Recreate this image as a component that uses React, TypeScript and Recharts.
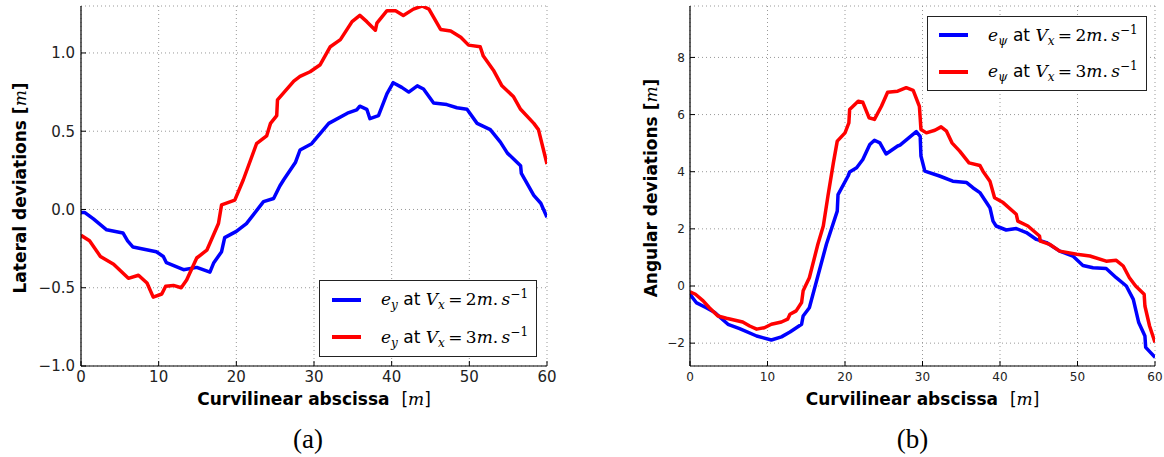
import { LineChart, Line, XAxis, YAxis, CartesianGrid, Legend } from "recharts";

// (a) lateral deviation e_y [m] against curvilinear abscissa s [m]
const latS2 = [0, 0.5, 1.6, 3.3, 5.4, 6.0, 6.7, 9.7, 10.6, 11.0, 13.2, 14.9, 16.6, 17.1, 18.1, 18.5, 20.0, 21.3, 23.5, 24.8, 25.6, 26.1, 27.6, 28.2, 29.7, 31.9, 34.3, 35.5, 35.9, 36.8, 37.2, 38.3, 39.4, 40.2, 41.3, 42.2, 43.3, 44.1, 45.4, 47.1, 48.4, 49.7, 51.0, 52.7, 54.0, 54.9, 56.6, 56.7, 58.3, 59.2, 60];
const latE2 = [-0.02, -0.02, -0.06, -0.13, -0.15, -0.2, -0.24, -0.27, -0.3, -0.34, -0.385, -0.37, -0.4, -0.34, -0.27, -0.18, -0.14, -0.09, 0.05, 0.07, 0.15, 0.19, 0.3, 0.38, 0.42, 0.55, 0.615, 0.636, 0.66, 0.64, 0.58, 0.6, 0.74, 0.81, 0.78, 0.75, 0.79, 0.77, 0.68, 0.67, 0.65, 0.64, 0.55, 0.51, 0.43, 0.36, 0.28, 0.23, 0.09, 0.04, -0.05];
const latS3 = [0, 1.1, 2.5, 4.2, 6.1, 7.4, 8.5, 9.3, 10.4, 10.9, 11.9, 12.9, 13.6, 14.9, 16.2, 17.7, 18.1, 19.8, 20.9, 22.6, 23.9, 24.4, 25.2, 25.3, 27.4, 28.2, 29.5, 30.8, 32.1, 33.4, 34.9, 35.9, 36.8, 37.9, 38.1, 39.4, 40.5, 41.5, 42.8, 43.9, 44.8, 46.3, 47.6, 48.9, 49.9, 51.4, 51.8, 53.1, 54.2, 55.7, 56.6, 58.3, 58.9, 60];
const latE3 = [-0.165, -0.2, -0.3, -0.35, -0.44, -0.42, -0.47, -0.56, -0.54, -0.49, -0.485, -0.5, -0.45, -0.31, -0.26, -0.09, 0.03, 0.06, 0.19, 0.42, 0.47, 0.55, 0.6, 0.7, 0.82, 0.85, 0.88, 0.925, 1.04, 1.085, 1.2, 1.24, 1.2, 1.145, 1.19, 1.27, 1.27, 1.24, 1.28, 1.3, 1.28, 1.15, 1.14, 1.1, 1.05, 1.04, 0.98, 0.89, 0.79, 0.72, 0.64, 0.55, 0.51, 0.29];

// (b) angular deviation e_psi against curvilinear abscissa
const angS2 = [0, 0.8, 2.1, 3.2, 4.9, 6.4, 8.6, 10.5, 11.8, 12.9, 14.4, 14.6, 15.4, 16.5, 17.6, 19.0, 19.1, 20.4, 20.6, 21.5, 22.3, 23.2, 23.8, 24.5, 25.3, 26.8, 27.1, 29.2, 29.7, 29.8, 30.3, 32.2, 33.9, 35.7, 36.5, 37.4, 38.7, 39.1, 39.5, 40.8, 42.1, 43.4, 44.7, 46.0, 47.7, 49.4, 50.7, 52.0, 53.7, 55.0, 56.3, 57.2, 57.9, 58.7, 58.8, 60];
const angE2 = [-0.29, -0.58, -0.76, -0.93, -1.34, -1.49, -1.75, -1.89, -1.78, -1.61, -1.34, -1.05, -0.76, 0.35, 1.46, 2.62, 3.2, 3.85, 3.99, 4.14, 4.43, 4.95, 5.1, 5.01, 4.62, 4.9, 4.93, 5.4, 5.24, 4.55, 4.02, 3.85, 3.67, 3.62, 3.44, 3.27, 2.74, 2.27, 2.1, 1.96, 2.01, 1.87, 1.63, 1.52, 1.22, 1.05, 0.72, 0.64, 0.61, 0.29, 0.0, -0.47, -1.28, -1.75, -2.15, -2.5];
const angS3 = [0, 0.7, 1.7, 2.5, 3.6, 4.7, 6.8, 7.7, 8.6, 9.6, 10.5, 11.8, 12.6, 12.9, 13.7, 14.4, 14.6, 15.4, 16.5, 17.2, 17.8, 18.5, 19.0, 20.0, 20.5, 20.6, 21.7, 22.3, 23.1, 23.8, 24.7, 25.5, 26.8, 27.9, 28.8, 29.6, 29.8, 30.5, 31.6, 32.4, 33.1, 33.8, 34.8, 36.0, 37.4, 37.8, 38.7, 39.3, 40.4, 42.1, 42.3, 43.6, 45.1, 45.2, 46.4, 47.7, 49.9, 51.6, 53.7, 55.0, 55.9, 56.7, 57.5, 58.6, 58.7, 59.3, 60];
const angE3 = [-0.2, -0.29, -0.52, -0.76, -1.05, -1.13, -1.26, -1.4, -1.51, -1.46, -1.34, -1.26, -1.16, -0.99, -0.87, -0.58, -0.17, 0.29, 1.46, 2.1, 3.15, 4.31, 5.07, 5.36, 5.71, 6.18, 6.47, 6.43, 5.89, 5.83, 6.29, 6.78, 6.82, 6.94, 6.85, 6.29, 5.48, 5.36, 5.45, 5.57, 5.42, 5.01, 4.72, 4.31, 4.22, 4.02, 3.67, 3.09, 2.92, 2.51, 2.27, 2.1, 1.75, 1.57, 1.46, 1.22, 1.11, 1.05, 0.87, 0.9, 0.7, 0.29, 0.0, -0.29, -0.7, -1.4, -1.98];

const sTicks = [0, 10, 20, 30, 40, 50, 60];
const latTicks = [-1, -0.5, 0, 0.5, 1];
const angTicks = [-2, 0, 2, 4, 6, 8];

const BLUE = "#0000ff";
const RED = "#ff0000";
const SANS = "'DejaVu Sans', sans-serif";
const SERIF = "'DejaVu Serif', serif";

const toPoints = (s: number[], e: number[]) => s.map((v, i) => ({ s: v, e: e[i] }));
const uminus = (t: string) => t.replace("-", "\u2212");

// matplotlib-classic ticks: short marks pointing into the plot, labels outside
const axisTick =
  (side: "bottom" | "left" | "top" | "right", fontSize: number, offset: number, fmt?: (v: number) => string) =>
  (props: any) => {
    const { x, y, payload } = props;
    const k = 5;
    if (side === "bottom") {
      return (
        <g>
          <line x1={x} y1={y} x2={x} y2={y - k} stroke="#000" />
          {fmt && (
            <text x={x} y={y + offset} textAnchor="middle" fontFamily={SANS} fontSize={fontSize} fill="#222">
              {fmt(payload.value)}
            </text>
          )}
        </g>
      );
    }
    if (side === "left") {
      return (
        <g>
          <line x1={x} y1={y} x2={x + k} y2={y} stroke="#000" />
          {fmt && (
            <text x={x - offset} y={y} dy="0.36em" textAnchor="end" fontFamily={SANS} fontSize={fontSize} fill="#222">
              {fmt(payload.value)}
            </text>
          )}
        </g>
      );
    }
    if (side === "top") return <line x1={x} y1={y} x2={x} y2={y + k} stroke="#000" />;
    return <line x1={x} y1={y} x2={x - k} y2={y} stroke="#000" />;
  };

const xTitle = (caption: string, shift: number) => (props: any) => {
  const { x, y, width } = props.viewBox;
  const cx = x + width / 2;
  return (
    <g>
      <text x={cx} y={y + 39} textAnchor="middle" fontFamily={SANS} fontSize={17} fontWeight="bold" fill="#000">
        Curvilinear abscissa{"\u00a0\u00a0"}
        <tspan fontWeight="normal">[</tspan>
        <tspan fontFamily={SERIF} fontStyle="italic" fontWeight="normal">m</tspan>
        <tspan fontWeight="normal">]</tspan>
      </text>
      <text x={cx + shift} y={y + 82} textAnchor="middle" fontFamily="'Liberation Serif', serif" fontSize={27} fill="#000">
        {caption}
      </text>
    </g>
  );
};

const yTitle = (name: string, cx: number) => (props: any) => {
  const { y, height } = props.viewBox;
  const cy = y + height / 2 + 2;
  return (
    <text
      transform={`translate(${cx}, ${cy}) rotate(-90)`}
      textAnchor="middle"
      dy="0.35em"
      fontFamily={SANS}
      fontSize={17}
      fontWeight="bold"
      fill="#000"
    >
      {name} [
      <tspan fontFamily={SERIF} fontStyle="italic" fontWeight="normal">m</tspan>]
    </text>
  );
};

const it = { fontFamily: SERIF, fontStyle: "italic" as const };
const small = { fontSize: 12, fontFamily: SERIF, fontStyle: "italic" as const };

const MathEntry = ({ sym, speed }: { sym: string; speed: string }) => (
  <span style={{ fontSize: 17, whiteSpace: "nowrap", color: "#000" }}>
    <span style={it}>e</span>
    <span style={{ ...small, position: "relative", top: 4 }}>{sym}</span>
    <span style={{ fontFamily: SANS }}> at </span>
    <span style={it}>V</span>
    <span style={{ ...small, position: "relative", top: 4 }}>x</span>
    <span style={{ fontFamily: SERIF }}>{"\u2009=\u2009"}{speed}</span>
    <span style={it}>m</span>
    <span style={{ fontFamily: SERIF }}>.{"\u2009"}</span>
    <span style={it}>s</span>
    <span style={{ fontSize: 12, fontFamily: SERIF, position: "relative", top: -7 }}>{"\u2212"}1</span>
  </span>
);

const legendBox = (sym: string, w: number, h: number, lineLeft: number, textLeft: number) => () => (
  <div style={{ width: w, height: h, border: "1px solid #222", boxSizing: "border-box", background: "#fff" }}>
    {[
      [BLUE, "2"],
      [RED, "3"],
    ].map(([c, v]) => (
      <div key={v} style={{ display: "flex", alignItems: "center", height: (h - 2) / 2, position: "relative" }}>
        <div style={{ position: "absolute", left: lineLeft, width: 29, height: 4, background: c }} />
        <div style={{ position: "absolute", left: textLeft }}>
          <MathEntry sym={sym} speed={v} />
        </div>
      </div>
    ))}
  </div>
);

const frameAxes = (yDomain: number[], yTicks: number[]) => [
  <XAxis
    key="top"
    xAxisId="top"
    orientation="top"
    type="number"
    domain={[0, 60]}
    ticks={sTicks}
    interval={0}
    height={0}
    allowDataOverflow
    tickSize={0}
    tickMargin={0}
    axisLine={{ stroke: "#000", strokeWidth: 1.2 }}
    tickLine={false}
    tick={axisTick("top", 0, 0)}
  />,
  <YAxis
    key="right"
    yAxisId="right"
    orientation="right"
    type="number"
    domain={yDomain}
    ticks={yTicks}
    interval={0}
    width={0}
    allowDataOverflow
    tickSize={0}
    tickMargin={0}
    axisLine={{ stroke: "#000", strokeWidth: 1.2 }}
    tickLine={false}
    tick={axisTick("right", 0, 0)}
  />,
];

export default function App() {
  return (
    <div style={{ position: "absolute", left: 0, top: 0, width: 1164, height: 457, background: "#fff" }}>
      <div style={{ position: "absolute", left: 0, top: 0 }}>
        <LineChart width={600} height={457} margin={{ top: 6, right: 53, bottom: 0, left: 1 }}>
          <CartesianGrid stroke="#999" strokeDasharray="1 3" />
          <XAxis
            dataKey="s"
            type="number"
            domain={[0, 60]}
            ticks={sTicks}
            interval={0}
            height={91}
            allowDataOverflow
            tickSize={0}
            tickMargin={0}
            axisLine={{ stroke: "#000", strokeWidth: 1.2 }}
            tickLine={false}
            tick={axisTick("bottom", 15, 15.5, (v) => String(v))}
            label={{ content: xTitle("(a)", -6) }}
          />
          <YAxis
            type="number"
            domain={[-1, 1.3]}
            ticks={latTicks}
            interval={0}
            width={80}
            allowDataOverflow
            tickSize={0}
            tickMargin={0}
            axisLine={{ stroke: "#000", strokeWidth: 1.2 }}
            tickLine={false}
            tick={axisTick("left", 15, 6, (v) => uminus(v.toFixed(1)))}
            label={{ content: yTitle("Lateral deviations", 20) }}
          />
          {frameAxes([-1, 1.3], latTicks)}
          <Line
            data={toPoints(latS2, latE2)}
            dataKey="e"
            type="linear"
            stroke={BLUE}
            strokeWidth={3.5}
            strokeLinejoin="round"
            dot={false}
            activeDot={false}
            isAnimationActive={false}
          />
          <Line
            data={toPoints(latS3, latE3)}
            dataKey="e"
            type="linear"
            stroke={RED}
            strokeWidth={3.5}
            strokeLinejoin="round"
            dot={false}
            activeDot={false}
            isAnimationActive={false}
          />
          <Legend
            layout="horizontal"
            verticalAlign="middle"
            align="center"
            wrapperStyle={{ left: 319, top: 280, width: 218, height: 77 }}
            content={legendBox("y", 218, 77, 12, 61)}
          />
        </LineChart>
      </div>
      <div style={{ position: "absolute", left: 600, top: 0 }}>
        <LineChart width={564} height={457} margin={{ top: 6, right: 9, bottom: 0, left: 0 }}>
          <CartesianGrid stroke="#999" strokeDasharray="1 3" />
          <XAxis
            dataKey="s"
            type="number"
            domain={[0, 60]}
            ticks={sTicks}
            interval={0}
            height={91}
            allowDataOverflow
            tickSize={0}
            tickMargin={0}
            axisLine={{ stroke: "#000", strokeWidth: 1.2 }}
            tickLine={false}
            tick={axisTick("bottom", 12, 14.5, (v) => String(v))}
            label={{ content: xTitle("(b)", -10) }}
          />
          <YAxis
            type="number"
            domain={[-2.8, 9.8]}
            ticks={angTicks}
            interval={0}
            width={90}
            allowDataOverflow
            tickSize={0}
            tickMargin={0}
            axisLine={{ stroke: "#000", strokeWidth: 1.2 }}
            tickLine={false}
            tick={axisTick("left", 12, 5, (v) => uminus(String(v)))}
            label={{ content: yTitle("Angular deviations", 51) }}
          />
          {frameAxes([-2.8, 9.8], angTicks)}
          <Line
            data={toPoints(angS2, angE2)}
            dataKey="e"
            type="linear"
            stroke={BLUE}
            strokeWidth={3.5}
            strokeLinejoin="round"
            dot={false}
            activeDot={false}
            isAnimationActive={false}
          />
          <Line
            data={toPoints(angS3, angE3)}
            dataKey="e"
            type="linear"
            stroke={RED}
            strokeWidth={3.5}
            strokeLinejoin="round"
            dot={false}
            activeDot={false}
            isAnimationActive={false}
          />
          <Legend
            layout="horizontal"
            verticalAlign="middle"
            align="center"
            wrapperStyle={{ left: 327, top: 16, width: 220, height: 75 }}
            content={legendBox("\u03c8", 220, 75, 11, 60)}
          />
        </LineChart>
      </div>
    </div>
  );
}
